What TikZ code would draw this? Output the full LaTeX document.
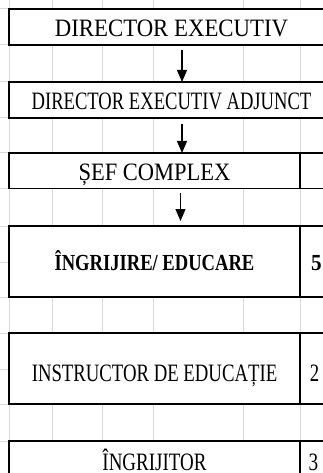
\documentclass[tikz,border=0pt]{standalone}
\usepackage{fontspec}
\setmainfont{Liberation Serif}
\usetikzlibrary{arrows.meta}
\begin{document}
\begin{tikzpicture}
[
   x=1pt, y=-1pt,
   cell/.style={draw, line width=1.8pt, fill=white, inner sep=0pt, outer sep=0pt,
     minimum width=291pt, text height=19pt, text depth=0pt,
     font=\fontsize{25}{25}\selectfont},
   wide/.style={cell, minimum width=325pt},
   side/.style={draw, line width=1.8pt, fill=white, inner sep=0pt, outer sep=0pt,
     minimum width=40pt, anchor=west},
   num/.style={inner sep=0pt, anchor=base east, font=\fontsize{25}{25}\selectfont},
   grid line/.style={draw=black!15, line width=1pt},
   link/.style={-{Triangle[width=10pt,length=12pt]}, line width=1.3pt}
]
\useasboundingbox (0,0) rectangle (323,473);
\clip (0,0) rectangle (323,473);
% sheet grid
\foreach \gx in {9,52,102,153,243,300}
  \draw[grid line] (\gx,0) -- (\gx,473);
\foreach \gy in {9,45,82,118,153,188.5,226,262,297,333,369,404,441}
  \draw[grid line] (0,\gy) -- (323,\gy);
% boxes
\node[wide, minimum height=36pt] (dir) at (171.5,27) {\scalebox{0.912}[1]{DIRECTOR EXECUTIV}};
\node[wide, minimum height=36pt, text height=20pt] (adj) at (171.5,100) {\scalebox{0.744}[1]{DIRECTOR EXECUTIV ADJUNCT}};
\node[cell, minimum height=35.5pt, text height=18.5pt] (sef) at (154.5,170.75) {\scalebox{0.9}[1]{ȘEF COMPLEX}};
\node[side, minimum height=35.5pt] (sefr) at (sef.east) {};
\node[cell, minimum height=71pt, text height=17pt, font=\fontsize{23}{23}\selectfont\bfseries] (ing) at (154.5,261.5) {\scalebox{0.808}[1]{ÎNGRIJIRE/ EDUCARE}};
\node[side, minimum height=71pt] (ingr) at (ing.east) {};
\node[cell, minimum height=71pt, text height=25pt] (ins) at (154.5,368.5) {\scalebox{0.75}[1]{INSTRUCTOR DE EDUCAȚIE}};
\node[side, minimum height=71pt] (insr) at (ins.east) {};
\node[cell, minimum height=36pt, text height=22pt] (grj) at (154.5,459) {\scalebox{0.76}[1]{ÎNGRIJITOR}};
\node[side, minimum height=36pt] (grjr) at (grj.east) {};
% counts
\node[num, font=\fontsize{23}{23}\selectfont\bfseries] (n5) at (322,270) {\scalebox{0.92}[1]{5}};
\node[num] (n2) at (319.5,381) {\scalebox{0.75}[1]{2}};
\node[num] (n3) at (318.5,470) {\scalebox{0.77}[1]{3}};
% arrows
\coordinate (ax) at (182,0);
\coordinate (bx) at (180.5,0);
\draw[link, shorten <=5pt] (dir.south -| ax) -- (adj.north -| ax);
\draw[link, shorten <=6pt] (adj.south -| ax) -- (sef.north -| ax);
\draw[link, shorten <=4.5pt, shorten >=5pt] (sef.south -| bx) -- (ing.north -| bx);
\end{tikzpicture}
\end{document}
